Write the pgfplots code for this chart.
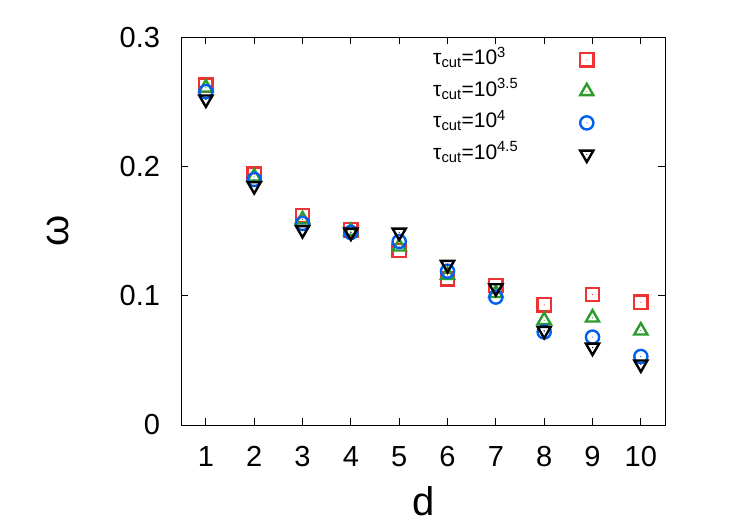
\documentclass[border=0pt]{standalone}
\usepackage{fontspec}
\setmainfont{Liberation Sans}
\usepackage{pgfplots}
\pgfplotsset{compat=1.18}
\definecolor{cred}{RGB}{240,50,50}
\definecolor{cgreen}{RGB}{44,156,44}
\definecolor{cblue}{RGB}{0,96,240}
\pgfdeclareplotmark{dsquare}{%
  \pgfsetlinewidth{2.4bp}%
  \pgfpathrectangle{\pgfqpoint{-\pgfplotmarksize}{-\pgfplotmarksize}}{\pgfqpoint{2\pgfplotmarksize}{2\pgfplotmarksize}}%
  \pgfusepathqstroke
  \pgfpathcircle{\pgfpointorigin}{0.6pt}\pgfusepathqfill}
\pgfdeclareplotmark{dcircle}{%
  \pgfsetlinewidth{2.4bp}%
  \pgfpathcircle{\pgfpointorigin}{\pgfplotmarksize}%
  \pgfusepathqstroke
  \pgfpathcircle{\pgfpointorigin}{0.6pt}\pgfusepathqfill}
\pgfdeclareplotmark{dtri}{%
  \pgfsetlinewidth{2.4bp}%
  \pgfpathmoveto{\pgfqpointpolar{90}{\pgfplotmarksize}}%
  \pgfpathlineto{\pgfqpointpolar{-30}{\pgfplotmarksize}}%
  \pgfpathlineto{\pgfqpointpolar{210}{\pgfplotmarksize}}%
  \pgfpathclose\pgfusepathqstroke
  \pgfpathcircle{\pgfpointorigin}{0.6pt}\pgfusepathqfill}
\pgfdeclareplotmark{dtridown}{%
  \pgfsetlinewidth{2.4bp}%
  \pgfpathmoveto{\pgfqpointpolar{-90}{\pgfplotmarksize}}%
  \pgfpathlineto{\pgfqpointpolar{30}{\pgfplotmarksize}}%
  \pgfpathlineto{\pgfqpointpolar{150}{\pgfplotmarksize}}%
  \pgfpathclose\pgfusepathqstroke
  \pgfpathcircle{\pgfpointorigin}{0.6pt}\pgfusepathqfill}
\begin{document}
\begin{tikzpicture}
\useasboundingbox (0,0) rectangle (750bp,525bp);
\begin{axis}[
  at={(181.7bp,100bp)}, anchor=south west,
  scale only axis, width=483.3bp, height=387.7bp,
  xmin=0.5, xmax=10.5, ymin=0, ymax=0.3,
  xtick={1,2,3,4,5,6,7,8,9,10},
  xticklabels={1,2,3,4,5,6,7,8,9,10},
  ytick={0,0.1,0.2,0.3},
  yticklabels={0,0.1,0.2,0.3},
  tick align=inside, major tick length=6.7bp,
  axis line style={line width=0.9bp},
  tick style={line width=0.9bp, black},
  ticklabel style={font=\fontsize{29bp}{34bp}\selectfont, inner sep=0pt},
  xticklabel style={yshift=-21bp},
  yticklabel style={xshift=-21.5bp},
  xlabel={d},
  xlabel style={font=\fontsize{40bp}{46bp}\selectfont, at={(axis description cs:0.5,0)}, anchor=base, inner sep=0pt, yshift=-90bp},
  ylabel={ω},
  ylabel style={font=\fontsize{40bp}{46bp}\selectfont, at={(axis description cs:-0.256,0.5)}, anchor=center, inner sep=0pt},
  only marks,
  legend image code/.code={\draw[#1] plot coordinates {(0bp,0bp)};},
  legend plot pos=right,
  legend cell align=left,
  legend style={draw=none, fill=none, at={(axis description cs:0.52,0.9706)}, anchor=north west,
    font=\fontsize{21bp}{25bp}\selectfont, inner sep=0pt,
    column sep=62bp, row sep=9.5bp,
    nodes={inner sep=0pt, text height=16bp, text depth=6bp}},
]
\addplot[color=cred, mark=dsquare, mark size=6.6bp]
  coordinates {(1,0.263)(2,0.194)(3,0.162)(4,0.151)(5,0.135)(6,0.113)(7,0.108)(8,0.093)(9,0.101)(10,0.095)};
\addlegendentry{τ\textsubscript{cut}=10\textsuperscript{3}}
\addplot[color=cgreen, mark=dtri, mark size=7.6bp]
  coordinates {(1,0.261)(2,0.192)(3,0.159)(4,0.150)(5,0.138)(6,0.116)(7,0.102)(8,0.081)(9,0.083)(10,0.073)};
\addlegendentry{τ\textsubscript{cut}=10\textsuperscript{3.5}}
\addplot[color=cblue, mark=dcircle, mark size=6.6bp]
  coordinates {(1,0.258)(2,0.190)(3,0.156)(4,0.149)(5,0.142)(6,0.119)(7,0.099)(8,0.072)(9,0.068)(10,0.053)};
\addlegendentry{τ\textsubscript{cut}=10\textsuperscript{4}}
\addplot[color=black, mark=dtridown, mark size=7.6bp]
  coordinates {(1,0.252)(2,0.185)(3,0.151)(4,0.149)(5,0.149)(6,0.124)(7,0.106)(8,0.073)(9,0.060)(10,0.047)};
\addlegendentry{τ\textsubscript{cut}=10\textsuperscript{4.5}}
\end{axis}
\end{tikzpicture}
\end{document}
